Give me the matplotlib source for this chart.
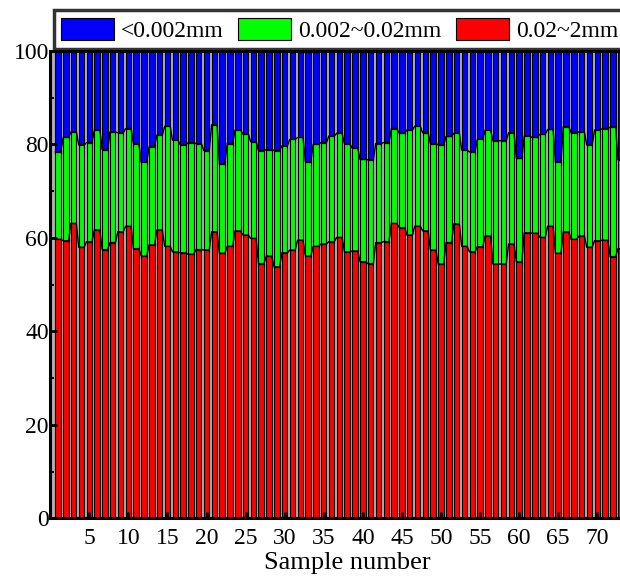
import numpy as np
import matplotlib.pyplot as plt
from matplotlib.ticker import MultipleLocator

plt.rcParams['font.family'] = ['Liberation Serif', 'DejaVu Serif']

# particle size fractions (%) for each sample
sample = np.arange(1, 74)
sand = [59.7, 59.4, 63.1, 58.0, 59.2, 61.7, 57.5, 59.0, 61.3, 62.5,
        57.7, 56.1, 58.5, 61.7, 58.2, 57.0, 56.8, 56.5, 57.5, 57.4,
        61.3, 56.7, 58.2, 61.5, 60.6, 59.9, 54.5, 56.1, 53.8, 56.8,
        57.4, 59.5, 56.1, 58.2, 58.7, 59.2, 60.1, 57.0, 57.2, 54.9,
        54.5, 59.0, 59.2, 63.1, 62.2, 60.6, 62.5, 61.5, 57.4, 54.4,
        59.0, 63.0, 58.2, 57.0, 58.1, 60.4, 54.4, 54.4, 58.7, 54.9,
        61.1, 61.0, 60.1, 62.5, 56.7, 61.3, 59.7, 60.4, 58.0, 59.4,
        59.5, 56.0, 57.7]
silt = [18.7, 22.1, 19.6, 21.9, 21.2, 21.4, 21.4, 23.7, 21.2, 20.9,
        22.5, 20.1, 21.0, 20.3, 25.7, 23.9, 23.1, 23.9, 22.7, 21.3,
        22.9, 19.2, 22.0, 21.6, 21.6, 20.7, 24.2, 22.8, 24.9, 22.9,
        23.7, 22.0, 20.2, 21.9, 21.7, 22.6, 22.3, 23.1, 22.0, 21.9,
        22.2, 21.2, 21.2, 20.3, 20.2, 22.5, 21.4, 21.0, 22.8, 25.5,
        22.7, 19.4, 20.6, 21.4, 23.0, 22.7, 26.4, 26.4, 23.8, 22.1,
        20.7, 20.5, 22.1, 20.7, 19.6, 22.5, 22.8, 22.3, 21.9, 23.7,
        23.9, 27.7, 19.0]
clay = [21.6, 18.5, 17.3, 20.1, 19.6, 16.9, 21.1, 17.3, 17.5, 16.6,
        19.8, 23.8, 20.5, 18.0, 16.1, 19.1, 20.1, 19.6, 19.8, 21.3,
        15.8, 24.1, 19.8, 16.9, 17.8, 19.4, 21.3, 21.1, 21.3, 20.3,
        18.9, 18.5, 23.7, 19.9, 19.6, 18.2, 17.6, 19.9, 20.8, 23.2,
        23.3, 19.8, 19.6, 16.6, 17.6, 16.9, 16.1, 17.5, 19.8, 20.1,
        18.3, 17.6, 21.2, 21.6, 18.9, 16.9, 19.2, 19.2, 17.5, 23.0,
        18.2, 18.5, 17.8, 16.8, 23.7, 16.2, 17.5, 17.3, 20.1, 16.9,
        16.6, 16.3, 23.3]
labels = ['<0.002mm', '0.002~0.02mm', '0.02~2mm']

fig = plt.figure(figsize=(6.2, 5.78), dpi=100)
ax = fig.add_axes([0.081, 0.1033, 0.958, 0.8085])
ax.set_facecolor('#b0b0b0')

w = 0.7
sand = np.array(sand)
silt = np.array(silt)
clay = np.array(clay)
b_sand = ax.bar(sample, sand, w, color='#ff0000', edgecolor='black', lw=0.8)
b_silt = ax.bar(sample, silt, w, bottom=sand, color='#00ff00', edgecolor='black', lw=0.8)
b_clay = ax.bar(sample, clay, w, bottom=sand + silt, color='#0000ff', edgecolor='black', lw=0.8)

# lines joining the bar corners, as in Origin
for top in (sand, sand + silt):
    xs = np.column_stack([sample - w / 2, sample + w / 2]).ravel()
    ys = np.repeat(top, 2)
    ax.plot(xs, ys, color='black', lw=1.0)

ax.set_xlim(0, 76)
ax.set_ylim(0, 100)
ax.set_xticks(np.arange(5, 71, 5))
ax.yaxis.set_major_locator(MultipleLocator(20))
ax.yaxis.set_minor_locator(MultipleLocator(10))
ax.tick_params(axis='x', direction='in', length=4, width=2, labelsize=17, pad=7)
ax.tick_params(axis='y', which='major', direction='in', length=5, width=2, labelsize=17, pad=1)
ax.tick_params(axis='y', which='minor', direction='in', length=3, width=1.5)
for s in ['left', 'bottom', 'top']:
    ax.spines[s].set_linewidth(2.2)
ax.set_xlabel('Sample number', fontsize=19, labelpad=2)

leg = fig.legend([b_clay, b_silt, b_sand], labels, ncol=3, loc='lower left',
                 bbox_to_anchor=(54 / 620, 1 - 49 / 578), fontsize=17,
                 handlelength=2.25, handleheight=1.1, handletextpad=0.3,
                 columnspacing=0.6, borderpad=0.3, borderaxespad=0,
                 fancybox=False, frameon=True, edgecolor='black')
leg.get_frame().set_linewidth(2.5)

fig.savefig('out.png', dpi=100)
